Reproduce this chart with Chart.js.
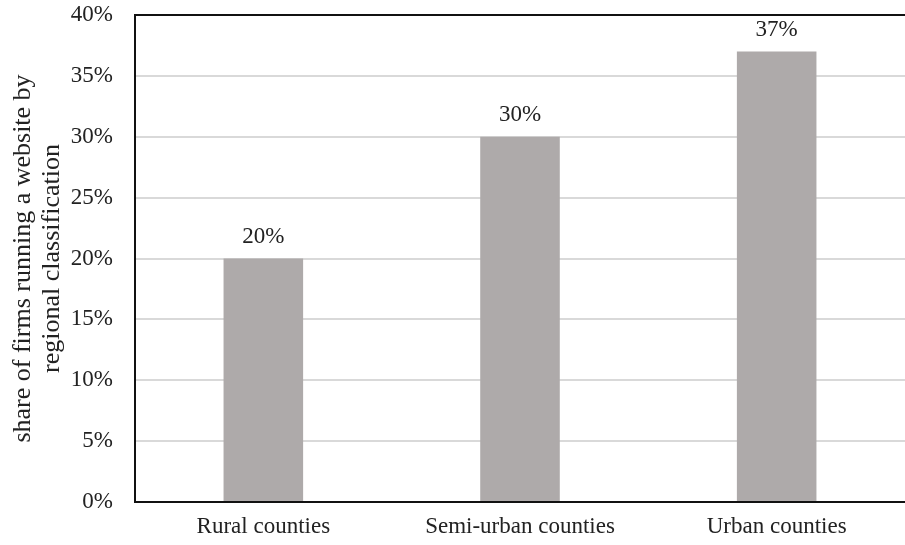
<!DOCTYPE html>
<html lang="en">
<head>
    <meta charset="UTF-8">
    <title>Firms running a website</title>
    <script src="https://cdn.jsdelivr.net/npm/chart.js"></script>
    <style>
        body { margin: 0; background: #fff; }
        #chart-box { width: 905px; height: 545px; }
    </style>
</head>
<body>
    <div id="chart-box">
        <canvas id="web-chart" width="905" height="545"></canvas>
    </div>

    <script>
        // Data
        const regions = ['Rural counties', 'Semi-urban counties', 'Urban counties'];
        const sharePct = [20, 30, 37];
        const yTicks = [0, 5, 10, 15, 20, 25, 30, 35, 40];

        const serif = '"Liberation Serif", "Times New Roman", serif';

        // Puts the % labels above each bar
        const valueLabels = {
            id: 'valueLabels',
            afterDatasetsDraw(chart) {
                const ctx = chart.ctx;
                const meta = chart.getDatasetMeta(0);
                ctx.save();
                ctx.font = '23px ' + serif;
                ctx.fillStyle = '#222';
                ctx.textAlign = 'center';
                ctx.textBaseline = 'alphabetic';
                meta.data.forEach((bar, i) => {
                    ctx.fillText(sharePct[i] + '%', bar.x, bar.y - 16);
                });
                ctx.restore();
            }
        };

        // Black frame on left, bottom and top
        const frame = {
            id: 'frame',
            afterDraw(chart) {
                const a = chart.chartArea;
                const ctx = chart.ctx;
                ctx.save();
                ctx.strokeStyle = '#111';
                ctx.lineWidth = 2;
                ctx.beginPath();
                ctx.moveTo(a.right, a.top);
                ctx.lineTo(a.left, a.top);
                ctx.lineTo(a.left, a.bottom);
                ctx.lineTo(a.right, a.bottom);
                ctx.stroke();
                ctx.restore();
            }
        };

        new Chart(document.getElementById('web-chart'), {
            type: 'bar',
            data: {
                labels: regions,
                datasets: [{
                    data: sharePct,
                    backgroundColor: '#aeaaaa',
                    barPercentage: 0.31,
                    categoryPercentage: 1
                }]
            },
            options: {
                responsive: false,
                animation: false,
                layout: { padding: { top: 15, right: 0, left: 0, bottom: 0 } },
                plugins: {
                    legend: { display: false },
                    tooltip: { enabled: false }
                },
                scales: {
                    x: {
                        afterFit(axis) {
                            axis.height = 43;
                            axis.paddingLeft = 0;
                            axis.paddingRight = 0;
                        },
                        grid: { display: false },
                        border: { display: false },
                        ticks: { color: '#222', font: { family: serif, size: 23 }, padding: 3 }
                    },
                    y: {
                        min: 0,
                        max: 40,
                        afterFit(axis) {
                            axis.width = 135;
                            axis.paddingTop = 0;
                            axis.paddingBottom = 0;
                        },
                        afterBuildTicks(axis) {
                            axis.ticks = yTicks.map(v => ({ value: v }));
                        },
                        grid: { color: '#d9d9d9', lineWidth: 2, drawTicks: false },
                        border: { display: false },
                        ticks: {
                            color: '#222',
                            font: { family: serif, size: 23 },
                            padding: 22,
                            callback: v => v + '%'
                        },
                        title: {
                            display: true,
                            text: ['share of firms running a website by', 'regional classification'],
                            color: '#222',
                            font: { family: serif, size: 26, lineHeight: 1.1 },
                            padding: { top: 9, bottom: 0 }
                        }
                    }
                }
            },
            plugins: [valueLabels, frame]
        });
    </script>
</body>
</html>
